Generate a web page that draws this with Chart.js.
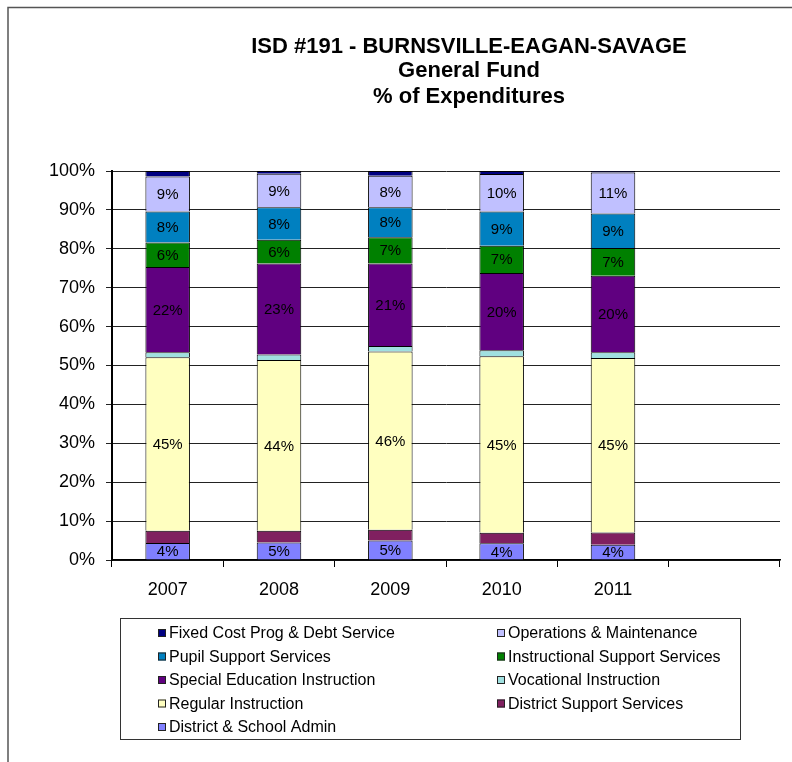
<!DOCTYPE html>
<html>
<head>
<meta charset="utf-8">
<title>ISD #191 - General Fund % of Expenditures</title>
<script src="https://cdn.jsdelivr.net/npm/chart.js@4"></script>
<style>
    html, body { margin: 0; padding: 0; background: #fff; }
    #wrap { position: relative; width: 792px; height: 762px; }
</style>
</head>
<body>
<div id="wrap"><canvas id="expChart" width="792" height="762"></canvas></div>
<script>
var titleLines = ['ISD #191 - BURNSVILLE-EAGAN-SAVAGE', 'General Fund', '% of Expenditures'];
var years = ['2007', '2008', '2009', '2010', '2011', ''];

// percent of general fund expenditures, bottom of the stack first
var schoolAdmin      = [4.4, 4.5, 5.0, 4.3, 3.9];
var districtSupport  = [3.1, 3.0, 2.8, 2.7, 3.2];
var regularInstr     = [44.6, 43.9, 45.8, 45.4, 44.8];
var vocationalInstr  = [1.3, 1.4, 1.4, 1.5, 1.5];
var specialEdInstr   = [21.9, 23.4, 21.2, 19.9, 19.7];
var instrSupport     = [6.3, 6.1, 6.8, 7.0, 7.1];
var pupilSupport     = [8.0, 8.4, 7.7, 8.8, 8.9];
var operations       = [9.0, 8.6, 8.1, 9.6, 10.5];
var fixedCostDebt    = [1.4, 0.7, 1.2, 0.8, 0.4];

var yTicks = [0, 10, 20, 30, 40, 50, 60, 70, 80, 90, 100];

var FONT = "'Liberation Sans', Arial, sans-serif";

function makeSet(label, values, color, showLabel) {
    return {
        label: label,
        data: values,
        backgroundColor: color,
        borderColor: '#000',
        borderWidth: 1,
        barPercentage: 0.4,
        categoryPercentage: 1.0,
        showLabel: showLabel
    };
}

var datasets = [
    makeSet('District & School Admin', schoolAdmin, '#8080FF', true),
    makeSet('District Support Services', districtSupport, '#802060', false),
    makeSet('Regular Instruction', regularInstr, '#FFFFC0', true),
    makeSet('Vocational Instruction', vocationalInstr, '#A0E0E0', false),
    makeSet('Special Education Instruction', specialEdInstr, '#600080', true),
    makeSet('Instructional Support Services', instrSupport, '#008000', true),
    makeSet('Pupil Support Services', pupilSupport, '#0080C0', true),
    makeSet('Operations & Maintenance', operations, '#C0C0FF', true),
    makeSet('Fixed Cost Prog & Debt Service', fixedCostDebt, '#000080', false)
];

// white page, outer frame line and the three title lines
var framePlugin = {
    id: 'frame',
    beforeDraw: function(chart) {
        var ctx = chart.ctx;
        ctx.save();
        ctx.fillStyle = '#fff';
        ctx.fillRect(0, 0, chart.width, chart.height);
        ctx.strokeStyle = '#555';
        ctx.lineWidth = 1.5;
        ctx.beginPath();
        ctx.moveTo(8, chart.height + 5);
        ctx.lineTo(8, 7.5);
        ctx.lineTo(chart.width + 5, 7.5);
        ctx.stroke();

        ctx.fillStyle = '#000';
        ctx.font = 'bold 22px ' + FONT;
        ctx.textAlign = 'center';
        ctx.textBaseline = 'middle';
        var ys = [47, 71, 97];
        for (var i = 0; i < titleLines.length; i++) {
            ctx.fillText(titleLines[i], 469, ys[i]);
        }
        ctx.restore();
    }
};

// percent labels centred on the bar segments
var barLabelPlugin = {
    id: 'barLabels',
    afterDatasetsDraw: function(chart) {
        var ctx = chart.ctx;
        ctx.save();
        ctx.font = '15px ' + FONT;
        ctx.fillStyle = '#000';
        ctx.textAlign = 'center';
        ctx.textBaseline = 'middle';
        chart.data.datasets.forEach(function(ds, i) {
            if (!ds.showLabel) return;
            var meta = chart.getDatasetMeta(i);
            meta.data.forEach(function(bar, j) {
                var v = ds.data[j];
                if (v === undefined) return;
                ctx.fillText(Math.round(v) + '%', bar.x, (bar.y + bar.base) / 2 + 1);
            });
        });
        ctx.restore();
    }
};

// boxed two-column legend below the plot, top series first
var legendPlugin = {
    id: 'boxLegend',
    afterDraw: function(chart) {
        var ctx = chart.ctx;
        var box = { x: 120.5, y: 618.5, w: 620, h: 121 };
        var cols = [158, 497];
        var rowY = [633, 656.5, 680, 703.5, 727];
        ctx.save();
        ctx.strokeStyle = '#333';
        ctx.lineWidth = 1;
        ctx.strokeRect(box.x, box.y, box.w, box.h);
        ctx.font = '16px ' + FONT;
        ctx.textBaseline = 'middle';
        ctx.textAlign = 'left';
        var items = chart.data.datasets.slice().reverse();
        for (var i = 0; i < items.length; i++) {
            var cx = cols[i % 2];
            var cy = rowY[Math.floor(i / 2)];
            ctx.fillStyle = items[i].backgroundColor;
            ctx.fillRect(cx, cy - 4, 8, 8);
            ctx.strokeStyle = '#222';
            ctx.strokeRect(cx + 0.5, cy - 3.5, 7, 7);
            ctx.fillStyle = '#000';
            ctx.fillText(items[i].label, cx + 11, cy + 1);
        }
        ctx.restore();
    }
};

var ctx = document.getElementById('expChart').getContext('2d');
var expChart = new Chart(ctx, {
    type: 'bar',
    data: { labels: years, datasets: datasets },
    plugins: [framePlugin, barLabelPlugin, legendPlugin],
    options: {
        responsive: false,
        animation: false,
        layout: { padding: { left: 0, right: 12, top: 171, bottom: 157 } },
        plugins: {
            legend: { display: false },
            tooltip: { enabled: false },
            title: { display: false }
        },
        scales: {
            x: {
                stacked: true,
                afterFit: function(scale) { scale.height = 45; },
                grid: {
                    drawOnChartArea: false,
                    drawTicks: true,
                    tickLength: 7,
                    color: '#000'
                },
                border: { color: '#000', width: 1.5 },
                ticks: {
                    color: '#000',
                    padding: 12,
                    font: { family: FONT, size: 18 }
                }
            },
            y: {
                stacked: true,
                min: 0,
                max: 100,
                afterFit: function(scale) { scale.width = 112; },
                afterBuildTicks: function(scale) {
                    scale.ticks = yTicks.map(function(v) { return { value: v }; });
                },
                grid: {
                    color: '#222',
                    lineWidth: 1,
                    drawTicks: true,
                    tickLength: 6
                },
                border: { color: '#000', width: 2 },
                ticks: {
                    color: '#000',
                    padding: 11,
                    font: { family: FONT, size: 18 },
                    callback: function(value) { return value + '%'; }
                }
            }
        }
    }
});
</script>
</body>
</html>
